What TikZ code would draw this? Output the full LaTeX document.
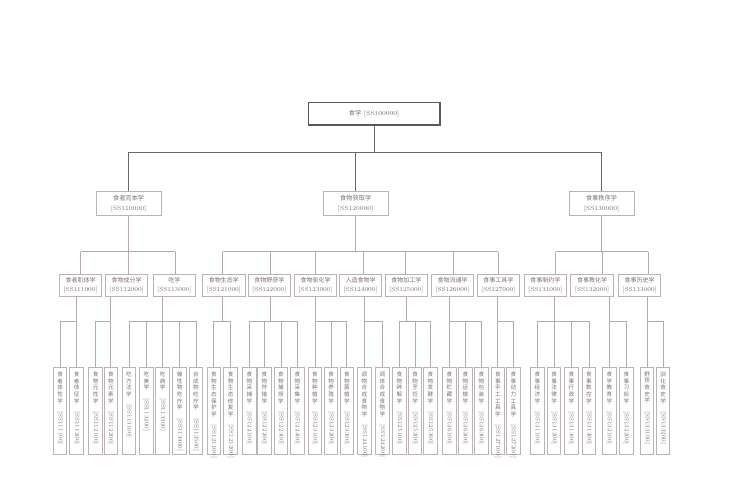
\documentclass[tikz,border=0pt]{standalone}
\usepackage{fontspec}
\usepackage{graphicx}
\newfontfamily\cjk{Noto Sans CJK SC}
\definecolor{txt}{RGB}{122,114,114}
\definecolor{rootline}{RGB}{95,88,88}
\definecolor{boxline}{RGB}{188,180,180}
\definecolor{darkconn}{RGB}{110,102,102}
\definecolor{lightconn}{RGB}{180,170,170}
\newcommand\lftxt[2]{\parbox[c][84bp][t]{13bp}{\centering\fontsize{5.6bp}{6.7bp}\selectfont\vspace*{3bp}\cjk #1\par\vspace*{1.5bp}\rotatebox{-90}{\fontsize{5.8bp}{6bp}\selectfont\rmfamily[#2]}}}
\newcommand\leaf[4]{\node[leafbox] (#1) at (#2,367) {\lftxt{#3}{#4}};}
\newcommand\midn[4]{\node[midbox] (#1) at (#2,285.5) {{\cjk #3}\\{}[#4]};}
\tikzset{
  rootbox/.style={draw=rootline, line width=1.1bp, minimum width=131.7bp, minimum height=22.7bp, inner sep=0pt, font=\fontsize{6.2bp}{7bp}\selectfont, text=txt},
  topbox/.style={draw=boxline, line width=1bp, minimum width=65bp, minimum height=23.8bp, inner sep=0pt, align=center, font=\fontsize{6.2bp}{10bp}\selectfont, text=txt},
  midbox/.style={draw=boxline, line width=1bp, minimum width=42.5bp, minimum height=22.4bp, inner sep=0pt, align=center, font=\fontsize{6bp}{9.4bp}\selectfont, text=txt},
  leafbox/.style={draw=boxline, line width=1bp, minimum width=13.5bp, minimum height=86.5bp, inner sep=0pt, anchor=north, text=txt},
  darkline/.style={draw=darkconn, line width=1.1bp},
  conn/.style={draw=lightconn, line width=0.8bp},
}
\begin{document}
\begin{tikzpicture}[x=1bp,y=-1bp]
\useasboundingbox (0,0) rectangle (755,481);
\fill[white] (0,0) rectangle (755,481);
% root and level 1
\node[rootbox] (root) at (374.15,113.65) {{\cjk 食学} [SS100000]};
\node[topbox] (A) at (128.55,203.6) {{\cjk 食者完本学}\\{}[SS110000]};
\node[topbox] (B) at (355.7,203.6) {{\cjk 食物获取学}\\{}[SS120000]};
\node[topbox] (C) at (601.5,203.6) {{\cjk 食事秩序学}\\{}[SS130000]};
% level 2
\midn{n111}{80.5}{食者肌体学}{SS111000}
\midn{n112}{126.65}{食物成分学}{SS112000}
\midn{n113}{174.35}{吃学}{SS113000}
\midn{n121}{223.85}{食物生态学}{SS121000}
\midn{n122}{269.35}{食物野获学}{SS122000}
\midn{n123}{315.5}{食物驯化学}{SS123000}
\midn{n124}{360.5}{人造食物学}{SS124000}
\midn{n125}{406.35}{食物加工学}{SS125000}
\midn{n126}{452.6}{食物流通学}{SS126000}
\midn{n127}{498.35}{食事工具学}{SS127000}
\midn{n131}{545.35}{食事制约学}{SS131000}
\midn{n132}{592.15}{食事教化学}{SS132000}
\midn{n133}{639.65}{食事历史学}{SS133000}
% leaves
\leaf{l1111}{60.2}{食\\者\\体\\性\\学}{SS111100}
\leaf{l1112}{76.7}{食\\者\\体\\征\\学}{SS111200}
\leaf{l1121}{95.7}{食\\物\\元\\性\\学}{SS112100}
\leaf{l1122}{110.8}{食\\物\\元\\素\\学}{SS112200}
\leaf{l1131}{129}{吃\\方\\法\\学}{SS113100}
\leaf{l1132}{146.4}{吃\\美\\学}{SS113200}
\leaf{l1133}{162.7}{吃\\病\\学}{SS113300}
\leaf{l1134}{179.7}{偏\\性\\物\\吃\\疗\\学}{SS113400}
\leaf{l1135}{196}{合\\成\\物\\吃\\疗\\学}{SS113500}
\leaf{l1211}{213.8}{食\\物\\生\\态\\保\\护\\学}{SS121100}
\leaf{l1212}{230.7}{食\\物\\生\\态\\修\\复\\学}{SS121200}
\leaf{l1221}{249.3}{食\\物\\采\\捕\\学}{SS122100}
\leaf{l1222}{264.4}{食\\物\\狩\\猎\\学}{SS122200}
\leaf{l1223}{281}{食\\物\\捕\\捞\\学}{SS122300}
\leaf{l1224}{297.3}{食\\物\\采\\集\\学}{SS122400}
\leaf{l1231}{315}{食\\物\\种\\植\\学}{SS123100}
\leaf{l1232}{331.2}{食\\物\\养\\殖\\学}{SS123200}
\leaf{l1233}{346.8}{食\\物\\菌\\植\\学}{SS123300}
\leaf{l1241}{364.5}{调\\物\\合\\成\\食\\物\\学}{SS124100}
\leaf{l1242}{382.5}{调\\体\\合\\成\\食\\物\\学}{SS124200}
\leaf{l1251}{399.5}{食\\物\\碎\\解\\学}{SS125100}
\leaf{l1252}{415.2}{食\\物\\烹\\饪\\学}{SS125200}
\leaf{l1253}{430.5}{食\\物\\发\\酵\\学}{SS125300}
\leaf{l1261}{449.3}{食\\物\\贮\\藏\\学}{SS126100}
\leaf{l1262}{465.3}{食\\物\\运\\输\\学}{SS126200}
\leaf{l1263}{481.3}{食\\物\\包\\装\\学}{SS126300}
\leaf{l1271}{497.8}{食\\事\\手\\工\\工\\具\\学}{SS127100}
\leaf{l1272}{513.3}{食\\事\\动\\力\\工\\具\\学}{SS127200}
\leaf{l1311}{537.3}{食\\事\\经\\济\\学}{SS131100}
\leaf{l1312}{554.2}{食\\事\\法\\律\\学}{SS131200}
\leaf{l1313}{571.3}{食\\事\\行\\政\\学}{SS131300}
\leaf{l1314}{589}{食\\事\\数\\控\\学}{SS131400}
\leaf{l1321}{609.4}{食\\学\\教\\育\\学}{SS132100}
\leaf{l1322}{626.3}{食\\事\\习\\俗\\学}{SS132200}
\leaf{l1331}{647.2}{野\\获\\食\\史\\学}{SS133100}
\leaf{l1332}{663.2}{驯\\化\\食\\史\\学}{SS133200}
% root -> level 1
\coordinate (bar0) at (0,152.3);
\draw[darkline] (root.south) -- (root.south |- bar0);
\draw[darkline] (A.north |- bar0) -- (C.north |- bar0);
\foreach \n in {A,B,C} \draw[darkline] (\n.north |- bar0) -- (\n.north);
% level 1 -> level 2
\coordinate (bar1) at (0,251.7);
\foreach \n in {A,B,C} \draw[conn] (\n.south) -- (\n.south |- bar1);
\coordinate (t111) at (80.7,251.7);
\coordinate (t112) at (128.3,251.7);
\coordinate (t113) at (175,251.7);
\coordinate (t121) at (222.7,251.7);
\coordinate (t122) at (270,251.7);
\coordinate (t123) at (315.7,251.7);
\coordinate (t124) at (363.3,251.7);
\coordinate (t125) at (405.7,251.7);
\coordinate (t126) at (453.3,251.7);
\coordinate (t127) at (498.3,251.7);
\coordinate (t131) at (555.7,251.7);
\coordinate (t132) at (602.7,251.7);
\coordinate (t133) at (648.3,251.7);
\draw[conn] (t111) -- (t113);
\draw[conn] (t121) -- (t127);
\draw[conn] (t131) -- (t133);
\foreach \k in {111,112,113,121,122,123,124,125,126,127,131,132,133}
  \draw[conn] (t\k) -- (t\k |- n\k.north);
% level 2 -> leaves
\coordinate (lb) at (0,321);
\coordinate (d111) at (76.7,321);
\coordinate (d112) at (110.8,321);
\coordinate (d113) at (162.7,321);
\coordinate (d121) at (222.7,321);
\coordinate (d122) at (270,321);
\coordinate (d123) at (315,321);
\coordinate (d124) at (364.5,321);
\coordinate (d125) at (406,321);
\coordinate (d126) at (449.3,321);
\coordinate (d127) at (497.8,321);
\coordinate (d131) at (554.2,321);
\coordinate (d132) at (609.4,321);
\coordinate (d133) at (647.2,321);
\foreach \k in {111,112,113,121,122,123,124,125,126,127,131,132,133}
  \draw[conn] (d\k |- n\k.south) -- (d\k);
\draw[conn] (l1111.north |- lb) -- (l1112.north |- lb);
\draw[conn] (l1121.north |- lb) -- (l1122.north |- lb);
\draw[conn] (l1131.north |- lb) -- (l1135.north |- lb);
\draw[conn] (l1211.north |- lb) -- (l1212.north |- lb);
\draw[conn] (l1221.north |- lb) -- (l1224.north |- lb);
\draw[conn] (l1231.north |- lb) -- (l1233.north |- lb);
\draw[conn] (l1241.north |- lb) -- (l1242.north |- lb);
\draw[conn] (l1251.north |- lb) -- (l1253.north |- lb);
\draw[conn] (l1261.north |- lb) -- (l1263.north |- lb);
\draw[conn] (l1271.north |- lb) -- (l1272.north |- lb);
\draw[conn] (l1311.north |- lb) -- (l1314.north |- lb);
\draw[conn] (l1321.north |- lb) -- (l1322.north |- lb);
\draw[conn] (l1331.north |- lb) -- (l1332.north |- lb);
\foreach \c in {l1111,l1112,l1121,l1122,l1131,l1132,l1133,l1134,l1135,l1211,l1212,l1221,l1222,l1223,l1224,l1231,l1232,l1233,l1241,l1242,l1251,l1252,l1253,l1261,l1262,l1263,l1271,l1272,l1311,l1312,l1313,l1314,l1321,l1322,l1331,l1332}
  \draw[conn] (\c.north |- lb) -- (\c.north);
\end{tikzpicture}
\end{document}
